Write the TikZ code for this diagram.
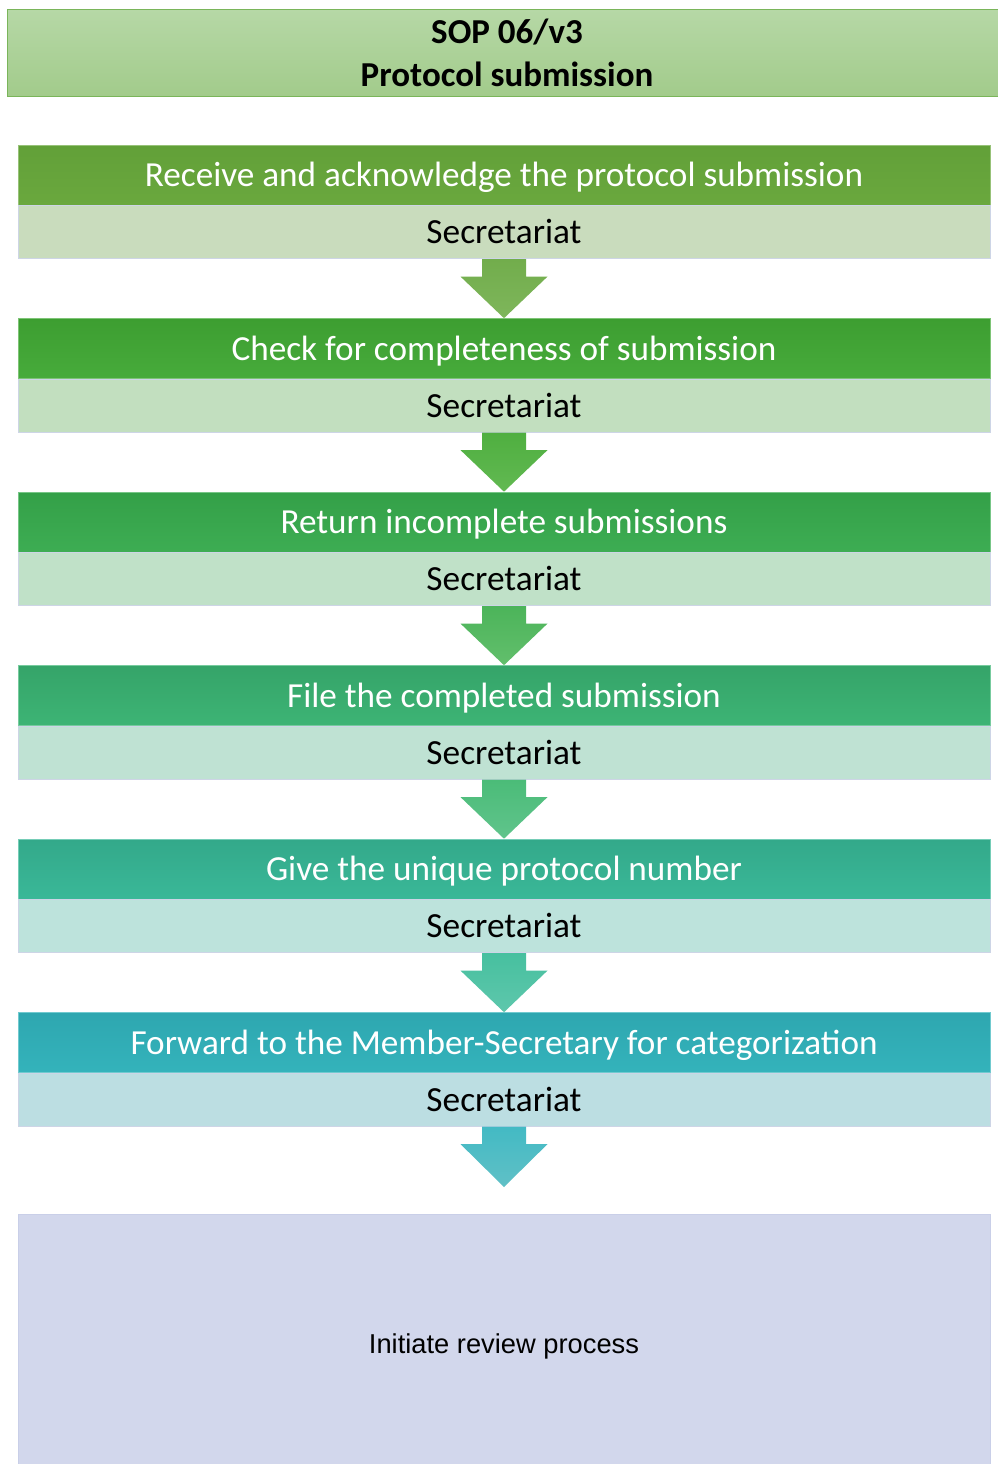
\documentclass[tikz,border=0pt]{standalone}
\usepackage{fontspec}
\setmainfont{Carlito}
\newfontfamily\arialf{Liberation Sans}
\usetikzlibrary{calc}
\definecolor{titleT}{HTML}{B6D8A6}
\definecolor{titleB}{HTML}{A2CB8B}
\definecolor{titleD}{HTML}{7AB55A}
\definecolor{hAt}{HTML}{62A038}\definecolor{hAb}{HTML}{6AA83E}
\definecolor{hBt}{HTML}{3D9E31}\definecolor{hBb}{HTML}{47AB3B}
\definecolor{hCt}{HTML}{34A048}\definecolor{hCb}{HTML}{3DAD53}
\definecolor{hDt}{HTML}{35A469}\definecolor{hDb}{HTML}{3DB475}
\definecolor{hEt}{HTML}{33A98A}\definecolor{hEb}{HTML}{3AB898}
\definecolor{hFt}{HTML}{2EA7B0}\definecolor{hFb}{HTML}{34B3BB}
\definecolor{sA}{HTML}{C9DCBD}
\definecolor{sB}{HTML}{C2DFBF}
\definecolor{sC}{HTML}{C0E1C8}
\definecolor{sD}{HTML}{BFE2D3}
\definecolor{sE}{HTML}{BDE3DC}
\definecolor{sF}{HTML}{BCDEE2}
\definecolor{aAt}{HTML}{72AD4C}\definecolor{aAb}{HTML}{7EB65B}
\definecolor{aBt}{HTML}{4FAF40}\definecolor{aBb}{HTML}{62B952}
\definecolor{aCt}{HTML}{4CB45A}\definecolor{aCb}{HTML}{62BF6C}
\definecolor{aDt}{HTML}{4BBC78}\definecolor{aDb}{HTML}{60C48C}
\definecolor{aEt}{HTML}{47C09F}\definecolor{aEb}{HTML}{5EC7AC}
\definecolor{aFt}{HTML}{43BAC4}\definecolor{aFb}{HTML}{60C0C6}
\definecolor{finalC}{HTML}{D2D7EC}
\definecolor{finalD}{HTML}{C9CFE8}
\definecolor{subD}{HTML}{CDD5E6}
\tikzset{
  titlebox/.style={top color=titleT, bottom color=titleB, draw=titleD, line width=1pt,
    minimum width=1000pt, minimum height=87pt, inner sep=0pt, align=center,
    font=\bfseries\fontsize{35}{43}\selectfont},
  headbox/.style n args={2}{top color=#1, bottom color=#2, draw=#2!70!white, line width=0.6pt,
    minimum width=972pt, minimum height=60pt, inner sep=0pt, text=white,
    text height=27.5pt, text depth=4.5pt,
    font=\fontsize{35.2}{38}\selectfont},
  subbox/.style={fill=#1, draw=subD, line width=0.8pt,
    minimum width=972pt, minimum height=53pt, inner sep=0pt, text=black,
    text height=27.5pt, text depth=4.5pt,
    font=\fontsize{35.3}{38}\selectfont},
  finalbox/.style={fill=finalC, draw=finalD, line width=0.8pt,
    minimum width=972pt, minimum height=258pt, inner sep=0pt,
    text height=20pt, text depth=0pt,
    font=\arialf\fontsize{27.3}{30}\selectfont},
}
\newcommand{\blkarrow}[4]{%
  \path[top color=#3, bottom color=#4] let \p1=(#1.south), \p2=(#2) in
    (\x1-22pt,\y1) -- (\x1+22pt,\y1) -- (\x1+22pt,\y1-17.5pt) -- (\x1+43.5pt,\y1-17.5pt)
    -- (\x1,\y2) -- (\x1-43.5pt,\y1-17.5pt) -- (\x1-22pt,\y1-17.5pt) -- cycle;}
\begin{document}
\begin{tikzpicture}[x=1pt,y=-1pt]
\useasboundingbox (0,0) rectangle (997,1464);
\node[titlebox] (title) at (507,53) {SOP 06/v3\\Protocol submission};

\node[headbox={hAt}{hAb}] (h1) at (504,175) {Receive and acknowledge the protocol submission};
\node[subbox=sA, anchor=north] (s1) at (h1.south) {Secretariat};

\node[headbox={hBt}{hBb}] (h2) at (504,348.5) {Check for completeness of submission};
\node[subbox=sB, anchor=north] (s2) at (h2.south) {Secretariat};

\node[headbox={hCt}{hCb}] (h3) at (504,522) {Return incomplete submissions};
\node[subbox=sC, anchor=north] (s3) at (h3.south) {Secretariat};

\node[headbox={hDt}{hDb}] (h4) at (504,695.5) {File the completed submission};
\node[subbox=sD, anchor=north] (s4) at (h4.south) {Secretariat};

\node[headbox={hEt}{hEb}] (h5) at (504,869) {Give the unique protocol number};
\node[subbox=sE, anchor=north] (s5) at (h5.south) {Secretariat};

\node[headbox={hFt}{hFb}] (h6) at (504,1042.5) {Forward to the Member-Secretary for categorization};
\node[subbox=sF, anchor=north] (s6) at (h6.south) {Secretariat};

\node[finalbox] (fin) at (504,1343) {Initiate review process};
\coordinate (tip6) at (504,1187);

\blkarrow{s1}{h2.north}{aAt}{aAb}
\blkarrow{s2}{h3.north}{aBt}{aBb}
\blkarrow{s3}{h4.north}{aCt}{aCb}
\blkarrow{s4}{h5.north}{aDt}{aDb}
\blkarrow{s5}{h6.north}{aEt}{aEb}
\blkarrow{s6}{tip6}{aFt}{aFb}
\end{tikzpicture}
\end{document}
